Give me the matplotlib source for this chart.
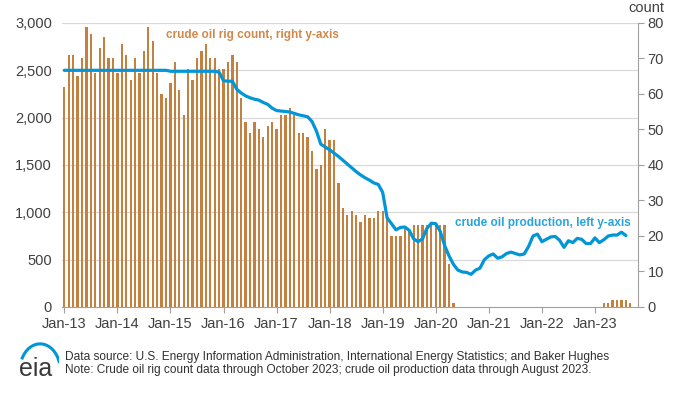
import matplotlib
matplotlib.use('Agg')
from matplotlib import pyplot as plt
from matplotlib.patches import Arc

plt.rcParams['font.family'] = ['Liberation Sans', 'DejaVu Sans']

# monthly, Jan-13 .. Oct-23
rigCount = [62, 71, 71, 65, 70, 79, 77, 66, 73, 76, 70, 70,
            66, 74, 71, 64, 70, 66, 72, 79, 75, 66, 60, 59,
            63, 69, 61, 54, 67, 64, 70, 72, 74, 70, 70, 67,
            67, 69, 71, 69, 59, 52, 49, 52, 50, 48, 51, 52,
            50, 54, 54, 56, 54, 49, 49, 48, 44, 39, 40, 50,
            47, 47, 35, 28, 26, 27, 26, 24, 26, 25, 25, 27,
            27, 26, 20, 20, 20, 22, 22, 23, 23, 23, 23, 23,
            23, 23, 23, 12, 1, 0, 0, 0, 0, 0, 0, 0,
            0, 0, 0, 0, 0, 0, 0, 0, 0, 0, 0, 0,
            0, 0, 0, 0, 0, 0, 0, 0, 0, 0, 0, 0,
            0, 0, 1, 1, 2, 2, 2, 2, 1, 0]

# monthly, Jan-13 .. Aug-23
production = [2500, 2500, 2500, 2500, 2500, 2500, 2500, 2500, 2500, 2500, 2500, 2500,
              2500, 2500, 2500, 2500, 2500, 2500, 2500, 2500, 2500, 2500, 2500, 2500,
              2490, 2490, 2490, 2490, 2490, 2490, 2490, 2490, 2490, 2490, 2490, 2480,
              2390, 2385, 2385, 2300, 2260, 2230, 2210, 2195, 2185, 2160, 2140, 2100,
              2075, 2070, 2065, 2060, 2045, 2030, 2020, 2010, 1960, 1860, 1720, 1690,
              1660, 1625, 1590, 1550, 1510, 1470, 1430, 1395, 1365, 1340, 1310, 1295,
              1210, 940, 880, 815, 840, 845, 810, 720, 690, 720, 830, 885,
              880, 800, 650, 540, 450, 390, 370, 365, 345, 390, 410, 500,
              540, 560, 515, 530, 565, 580, 565, 550, 560, 640, 750, 770,
              690, 715, 740, 745, 705, 630, 700, 680, 725, 715, 670, 670,
              730, 680, 710, 750, 760, 760, 790, 755]

tickLabels = ['Jan-13', 'Jan-14', 'Jan-15', 'Jan-16', 'Jan-17', 'Jan-18',
              'Jan-19', 'Jan-20', 'Jan-21', 'Jan-22', 'Jan-23']

barColor = '#C4803E'
lineColor = '#0096D7'
textGray = '#404040'
axisGray = '#A0A0A0'

fig = plt.figure(figsize=(6.8, 3.95), dpi=100)
ax = fig.add_axes([0.0907, 0.2228, 0.8473, 0.719])

# gridlines follow the left axis (every 500 of 3000 -> every 80/6 counts)
for k in range(1, 7):
    ax.axhline(k * 80 / 6, color='#D9D9D9', lw=0.9, zorder=0)

ax.bar(range(len(rigCount)), rigCount, width=0.52, color=barColor, zorder=2)
ax.set_ylim(0, 80)
ax.set_xlim(-0.6, 129.7)
ax.set_xticks(range(0, 121, 12))
ax.set_xticklabels(tickLabels)
ax.tick_params(axis='x', length=4, color=axisGray, labelcolor=textGray, labelsize=10.5, pad=3)
for s in ['top', 'left']:
    ax.spines[s].set_visible(False)
for s in ['right', 'bottom']:
    ax.spines[s].set_color(axisGray)

ax2 = ax.twinx()
ax2.plot(range(len(production)), production, color=lineColor, lw=2.3,
         solid_joinstyle='round', solid_capstyle='round', zorder=3)
ax2.set_ylim(0, 3000)
ax2.yaxis.tick_left()
ax2.set_yticks(range(0, 3001, 500))
ax2.set_yticklabels([f'{v:,}' for v in range(0, 3001, 500)])
ax2.tick_params(axis='y', length=0, labelcolor=textGray, labelsize=10.5, pad=7)
for s in ax2.spines.values():
    s.set_visible(False)

# twinx moves the bar axis ticks to the left, put them back on the right
ax.yaxis.tick_right()
ax.set_yticks(range(0, 81, 10))
ax.tick_params(axis='y', length=4, color=axisGray, labelcolor=textGray, labelsize=10.5, pad=3)

fig.text(0.951, 0.979, 'count', ha='center', va='center', color=textGray, fontsize=10.5)
fig.text(0.244, 0.911, 'crude oil rig count, right y-axis', color='#D0894A',
         fontsize=8.5, fontweight='bold', va='center')
fig.text(0.669, 0.435, 'crude oil production, left y-axis', color='#2AA3DC',
         fontsize=8.5, fontweight='bold', va='center')

fig.text(0.0956, 0.097, 'Data source: U.S. Energy Information Administration, International Energy Statistics; and Baker Hughes',
         color='#303030', fontsize=8.6, va='center')
fig.text(0.0956, 0.063, 'Note: Crude oil rig count data through October 2023; crude oil production data through August 2023.',
         color='#303030', fontsize=8.6, va='center')

# eia logo
logo = fig.add_axes([0.022, 0.035, 0.065, 0.12])
logo.set_xlim(0, 44)
logo.set_ylim(0, 47)
logo.axis('off')
logo.text(21, 12, 'eia', ha='center', va='center', fontsize=18, color='#3A3A3A')
logo.add_patch(Arc((25, 11), 40, 52, theta1=20, theta2=150, color=lineColor, lw=2.2))

fig.savefig('out.png', dpi=100)
